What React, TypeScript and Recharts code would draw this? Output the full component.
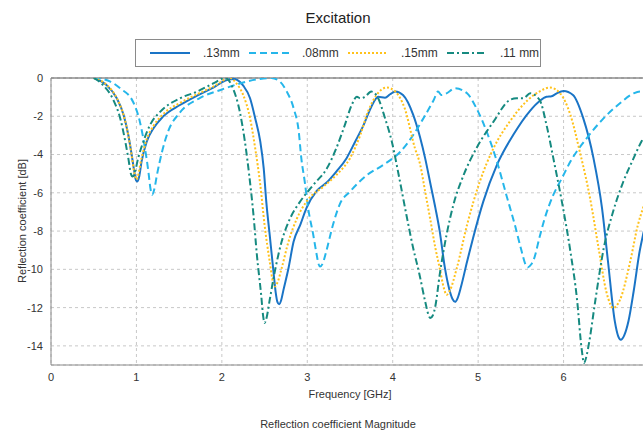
import React from 'react';
import { LineChart, Line, XAxis, YAxis, CartesianGrid, ReferenceLine, Legend } from 'recharts';

// [frequency GHz, reflection dB]
const S13: [number, number][] = [
  [0.5, 0], [0.65, -0.37], [0.77, -1.06], [0.85, -1.93], [0.905, -2.98], [0.944, -4.0], [0.975, -4.89], [0.995, -5.35], [1.01, -5.41],
  [1.03, -5.2], [1.06, -4.37], [1.12, -3.33], [1.2, -2.63], [1.31, -2.02], [1.51, -1.41], [1.71, -0.92], [1.9, -0.5], [2.06, -0.1],
  [2.15, -0.05], [2.21, -0.2], [2.25, -0.4], [2.33, -1.06], [2.39, -2.1], [2.45, -3.33], [2.49, -4.72], [2.52, -6.46],
  [2.56, -8.2], [2.6, -9.94], [2.63, -11.2], [2.65, -11.7], [2.67, -11.82], [2.695, -11.6], [2.72, -11.1], [2.78, -9.94], [2.84, -8.55], [2.92, -7.65],
  [2.99, -6.8], [3.11, -5.9], [3.23, -5.45], [3.34, -4.89], [3.46, -4.19], [3.56, -3.33], [3.66, -2.45], [3.75, -1.5],
  [3.83, -0.98], [3.91, -1.03], [3.97, -0.85], [4.03, -0.7], [4.12, -0.89], [4.24, -1.93], [4.32, -3.1], [4.38, -4.2],
  [4.44, -5.5], [4.5, -6.8], [4.55, -8.0], [4.61, -9.9], [4.66, -11.0], [4.7, -11.55], [4.73, -11.7], [4.76, -11.5], [4.8, -10.9], [4.87, -9.6],
  [4.94, -8.37], [5.06, -6.46], [5.22, -4.54], [5.41, -2.98], [5.61, -1.7], [5.72, -1.2], [5.8, -0.98], [5.86, -0.95],
  [5.92, -0.8], [6.0, -0.68], [6.11, -0.89], [6.23, -2.1], [6.35, -4.19], [6.45, -6.8], [6.52, -9.59], [6.6, -12.72],
  [6.64, -13.5], [6.67, -13.68], [6.71, -13.45], [6.76, -12.7], [6.82, -11.16], [6.89, -9.07], [6.93, -8.2], [7.0, -7.0],
];

const S08: [number, number][] = [
  [0.5, 0], [0.57, -0.03], [0.7, -0.2], [0.81, -0.54], [0.96, -1.24], [1.04, -2.28], [1.1, -3.67], [1.14, -4.89],
  [1.165, -5.8], [1.185, -6.1], [1.21, -5.8], [1.24, -5.07], [1.3, -3.85], [1.37, -2.8], [1.5, -1.85], [1.74, -1.05], [2.0, -0.6], [2.2, -0.3],
  [2.4, -0.08], [2.58, 0], [2.68, -0.19], [2.76, -0.71], [2.84, -1.58], [2.9, -2.8], [2.93, -4.19], [2.97, -5.41],
  [3.01, -6.8], [3.07, -8.2], [3.11, -9.24], [3.13, -9.7], [3.15, -9.85], [3.18, -9.7], [3.22, -9.1], [3.3, -7.68], [3.38, -6.6], [3.5, -5.94],
  [3.7, -5.07], [3.89, -4.54], [4.09, -3.85], [4.24, -2.98], [4.36, -2.1], [4.48, -1.15], [4.53, -0.71], [4.57, -0.89],
  [4.63, -0.8], [4.73, -0.54], [4.87, -0.8], [4.98, -1.58], [5.1, -2.8], [5.22, -4.37], [5.33, -6.11], [5.43, -7.68],
  [5.51, -9.07], [5.55, -9.7], [5.58, -9.9], [5.62, -9.75], [5.65, -9.5], [5.72, -8.3], [5.78, -7.33], [5.88, -6.11], [5.98, -5.24], [6.08, -4.37],
  [6.27, -3.15], [6.47, -2.1], [6.66, -1.32], [6.82, -0.8], [6.9, -0.7], [7.0, -0.75],
];

const S15: [number, number][] = [
  [0.5, 0], [0.65, -0.35], [0.77, -1.05], [0.85, -1.95], [0.905, -3.0], [0.944, -4.05], [0.975, -4.95], [1.0, -5.3],
  [1.06, -4.2], [1.12, -3.2], [1.2, -2.5], [1.31, -1.9], [1.51, -1.3], [1.71, -0.85], [1.9, -0.45], [2.1, 0],
  [2.17, -0.28], [2.25, -0.89], [2.33, -2.1], [2.39, -3.67], [2.45, -5.59], [2.5, -7.68], [2.56, -9.59], [2.6, -10.7], [2.62, -10.9],
  [2.65, -10.7], [2.7, -9.94], [2.78, -8.55], [2.88, -7.33], [3.0, -6.4], [3.19, -5.67], [3.34, -5.07], [3.5, -4.19], [3.62, -2.98],
  [3.71, -1.76], [3.81, -0.89], [3.93, -0.5], [4.03, -0.71], [4.14, -1.58], [4.26, -3.67], [4.32, -4.5], [4.38, -5.94],
  [4.44, -7.4], [4.5, -8.9], [4.55, -9.94], [4.6, -11.0], [4.63, -11.33], [4.67, -11.1], [4.75, -9.94], [4.87, -7.68], [5.02, -5.41], [5.18, -3.67],
  [5.37, -2.28], [5.57, -1.2], [5.7, -0.75], [5.84, -0.5], [5.96, -0.8], [6.08, -1.93], [6.19, -3.85], [6.31, -6.28],
  [6.41, -8.9], [6.5, -11.16], [6.55, -11.85], [6.58, -12.03], [6.62, -11.9], [6.66, -11.6], [6.78, -9.59], [6.87, -7.68], [6.93, -6.8], [7.0, -5.9],
];

const S11: [number, number][] = [
  [0.5, 0], [0.61, -0.37], [0.73, -1.15], [0.81, -2.1], [0.87, -3.33], [0.905, -4.19], [0.935, -5.0], [0.955, -5.15], [0.98, -4.95], [1.02, -4.19],
  [1.08, -3.33], [1.16, -2.45], [1.28, -1.76], [1.51, -1.06], [1.71, -0.71], [1.9, -0.28], [2.04, 0], [2.13, -0.54],
  [2.21, -1.76], [2.27, -3.33], [2.32, -5.07], [2.37, -7.15], [2.41, -9.24], [2.46, -11.33], [2.485, -12.5], [2.5, -12.8], [2.525, -12.5], [2.56, -11.6],
  [2.62, -10.11], [2.7, -8.55], [2.8, -7.33], [2.91, -6.5], [3.07, -5.59], [3.23, -4.72], [3.34, -3.67], [3.44, -2.45],
  [3.52, -1.41], [3.58, -0.98], [3.62, -1.06], [3.67, -1.0], [3.75, -0.71], [3.83, -1.06], [3.91, -2.1], [3.99, -3.33],
  [4.07, -5.07], [4.16, -7.15], [4.24, -8.9], [4.31, -10.2], [4.38, -11.68], [4.42, -12.4], [4.44, -12.55], [4.47, -12.4], [4.5, -11.9], [4.55, -10.28],
  [4.63, -8.2], [4.71, -6.63], [4.83, -5.07], [4.98, -3.67], [5.18, -2.28], [5.37, -1.15], [5.45, -1.06], [5.53, -1.06],
  [5.61, -0.8], [5.72, -1.15], [5.8, -2.45], [5.88, -4.19], [5.98, -6.46], [6.08, -9.07], [6.16, -11.68], [6.21, -14.1],
  [6.24, -14.9], [6.27, -14.5], [6.3, -13.8], [6.37, -11.68], [6.47, -8.9], [6.58, -6.98], [6.7, -5.41], [6.82, -4.19], [6.91, -3.33],
  [7.0, -2.7],
];

const X_TICKS = [0, 1, 2, 3, 4, 5, 6];
const Y_TICKS = [0, -2, -4, -6, -8, -10, -12, -14];

const SERIES = [
  { name: '.13mm', points: S13, color: '#1a74c6', dash: undefined as string | undefined },
  { name: '.08mm', points: S08, color: '#25b6ea', dash: '7 4' },
  { name: '.15mm', points: S15, color: '#ffc21c', dash: '2 2' },
  { name: '.11 mm', points: S11, color: '#168a80', dash: '7 3 2 3' },
];

const FONT = '"Liberation Sans", Arial, sans-serif';

function LegendBox() {
  return (
    <div
      style={{
        position: 'absolute', left: 135, top: 39, width: 406, height: 28, boxSizing: 'border-box',
        border: '1px solid #8a8a8a', fontFamily: FONT, fontSize: 12, color: '#333',
      }}
    >
      {SERIES.map((s, i) => (
        <div key={s.name} style={{ position: 'absolute', left: 14 + i * 99, top: 6, display: 'flex', alignItems: 'center' }}>
          <svg width={40} height={14}>
            <line x1={0} y1={7} x2={40} y2={7} stroke={s.color} strokeWidth={2} strokeDasharray={s.dash} />
          </svg>
          <span style={{ marginLeft: 13 }}>{s.name}</span>
        </div>
      ))}
    </div>
  );
}

export default function App() {
  return (
    <div style={{ position: 'absolute', left: 0, top: 0, width: 643, height: 434, overflow: 'hidden', background: '#fff', fontFamily: FONT }}>
      <div style={{ position: 'absolute', left: 0, width: 676, top: 9, textAlign: 'center', fontSize: 15, color: '#222' }}>
        Excitation
      </div>
      <LineChart width={660} height={434} margin={{ top: 78, right: 11, bottom: 39, left: 0 }}>
        <CartesianGrid stroke="#c8c8c8" strokeDasharray="3 3" />
        <XAxis
          dataKey="f"
          type="number"
          domain={[0, 7]}
          ticks={X_TICKS}
          allowDataOverflow
          tickLine={false}
          stroke="#8a8a8a"
          height={30}
          tick={{ fontSize: 11, fill: '#333', fontFamily: FONT }}
        />
        <YAxis
          type="number"
          domain={[-15, 0]}
          ticks={Y_TICKS}
          allowDataOverflow
          tickLine={false}
          stroke="#8a8a8a"
          width={51}
          tick={{ fontSize: 11, fill: '#333', fontFamily: FONT }}
        />
        <ReferenceLine y={0} stroke="#555" strokeWidth={1} />
        <Legend content={() => null} />
        {SERIES.map((s) => (
          <Line
            key={s.name}
            name={s.name}
            data={s.points.map(([f, db]) => ({ f, db }))}
            dataKey="db"
            type="monotone"
            stroke={s.color}
            strokeWidth={2}
            strokeDasharray={s.dash}
            dot={false}
            isAnimationActive={false}
          />
        ))}
      </LineChart>
      <LegendBox />
      <div
        style={{
          position: 'absolute', left: 22, top: 221, fontSize: 11, color: '#333', whiteSpace: 'nowrap',
          transform: 'translate(-50%, -50%) rotate(-90deg)',
        }}
      >
        Reflection coefficient [dB]
      </div>
      <div style={{ position: 'absolute', left: 0, width: 700, top: 388, textAlign: 'center', fontSize: 11, color: '#333' }}>
        Frequency [GHz]
      </div>
      <div style={{ position: 'absolute', left: 0, width: 676, top: 418, textAlign: 'center', fontSize: 11, color: '#333' }}>
        Reflection coefficient Magnitude
      </div>
    </div>
  );
}
